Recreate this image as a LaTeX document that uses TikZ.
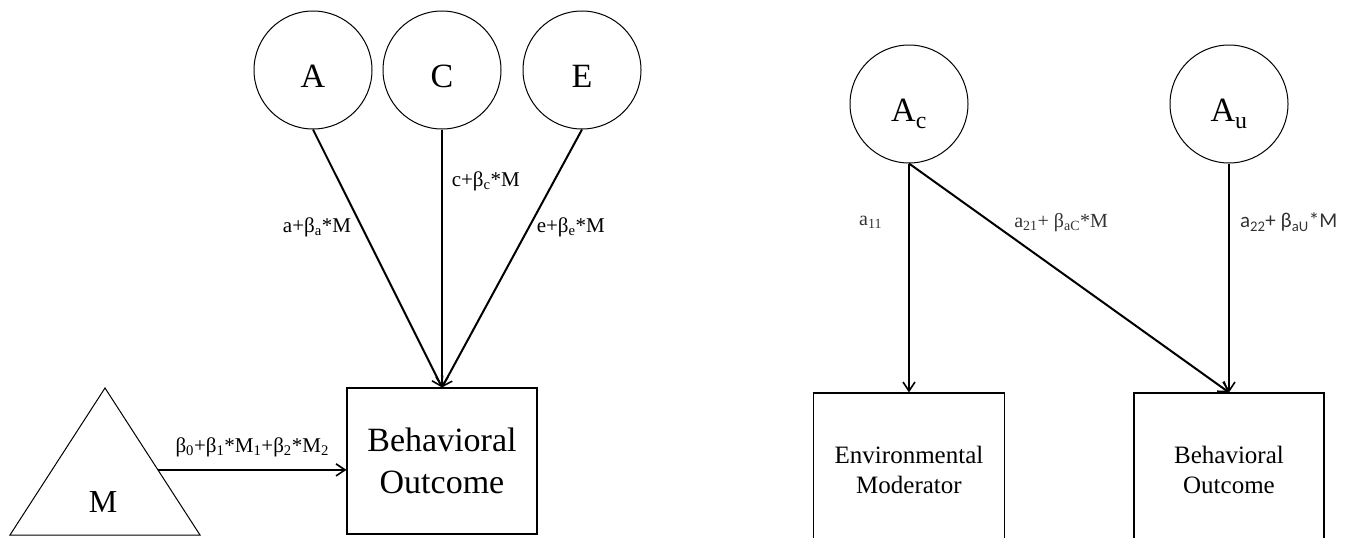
\documentclass[tikz,border=0pt]{standalone}
\usepackage{fontspec}
\setmainfont{Liberation Serif}
\newfontfamily\sansf{Carlito}
\usetikzlibrary{arrows.meta,calc}
\begin{document}
\begin{tikzpicture}[x=1pt,y=-1pt,
  latent/.style={circle,draw,line width=1pt,minimum size=118pt,inner sep=0pt,
    font=\fontsize{34}{34}\selectfont,text height=34pt,text depth=0pt},
  obs/.style={draw,line width=1.1pt,inner sep=0pt,align=center},
  conn/.style={line width=2pt,-{Straight Barb[length=9pt,width=12pt,line width=1.6pt]}},
  lbl/.style={font=\fontsize{21}{21}\selectfont,inner sep=0pt},
  rlbl/.style={font=\fontsize{20}{20}\selectfont,inner sep=0pt,text=black!80},
  ]
\useasboundingbox (0,0) rectangle (1358,538);
\begin{scope}
\clip (0,0) rectangle (1358,538);
% ---------- left panel ----------
\node[latent] (A) at (313,70) {A};
\node[latent] (C) at (442,70) {C};
\node[latent] (E) at (582,70) {E};
\node[obs,minimum width=190pt,minimum height=146pt,font=\fontsize{34}{42}\selectfont] (BO1) at (442,461) {Behavioral\\Outcome};

\coordinate (Mtop) at (105,388);
\coordinate (Mbl) at (10,535);
\coordinate (Mbr) at (200,535);
\draw[line width=1pt] (Mtop) -- (Mbr) -- (Mbl) -- cycle;
\node[font=\fontsize{32}{32}\selectfont] (M) at (103,502) {M};
\coordinate (Mout) at ($(Mtop)!0.557!(Mbr)$);

\draw[conn,line width=2.4pt] (Mout) -- node[lbl,above=12pt] {β\textsubscript{0}+β\textsubscript{1}*M\textsubscript{1}+β\textsubscript{2}*M\textsubscript{2}} (Mout -| BO1.west);

\draw[conn] (A.south) -- node[lbl,pos=0.38,anchor=east,xshift=-10pt] {a+β\textsubscript{a}*M} (BO1.north);
\draw[conn,line width=1.6pt] (C.south) -- node[lbl,pos=0.2,anchor=west,xshift=9pt] {c+β\textsubscript{c}*M} (BO1.north);
\draw[conn] (E.south) -- node[lbl,pos=0.38,anchor=west,xshift=7pt] {e+β\textsubscript{e}*M} (BO1.north);

% ---------- right panel ----------
\node[latent] (Ac) at (909,104) {A\raisebox{-4pt}{\textsubscript{c}}};
\node[latent] (Au) at (1229,104) {A\raisebox{-4pt}{\textsubscript{u}}};
\node[obs,minimum width=191pt,minimum height=154pt,font=\fontsize{25}{30}\selectfont] (EM) at (909,470) {Environmental\\Moderator};
\node[obs,minimum width=190pt,minimum height=154pt,font=\fontsize{25}{30}\selectfont] (BO2) at (1229,470) {Behavioral\\Outcome};

\draw[conn] (Ac.south) -- node[rlbl,pos=0.257,anchor=east,xshift=-26pt] {a\textsubscript{11}} (EM.north);
\draw[conn] (Ac.south) -- node[rlbl,pos=0.257,anchor=west,xshift=22pt] {a\textsubscript{21}+ β\textsubscript{aC}*M} (BO2.north);
\draw[conn] (Au.south) -- node[rlbl,font=\sansf\fontsize{21}{21}\selectfont,pos=0.257,anchor=west,xshift=10pt] {a\textsubscript{22}+ β\textsubscript{aU}*M} (BO2.north);
\end{scope}
\end{tikzpicture}
\end{document}
